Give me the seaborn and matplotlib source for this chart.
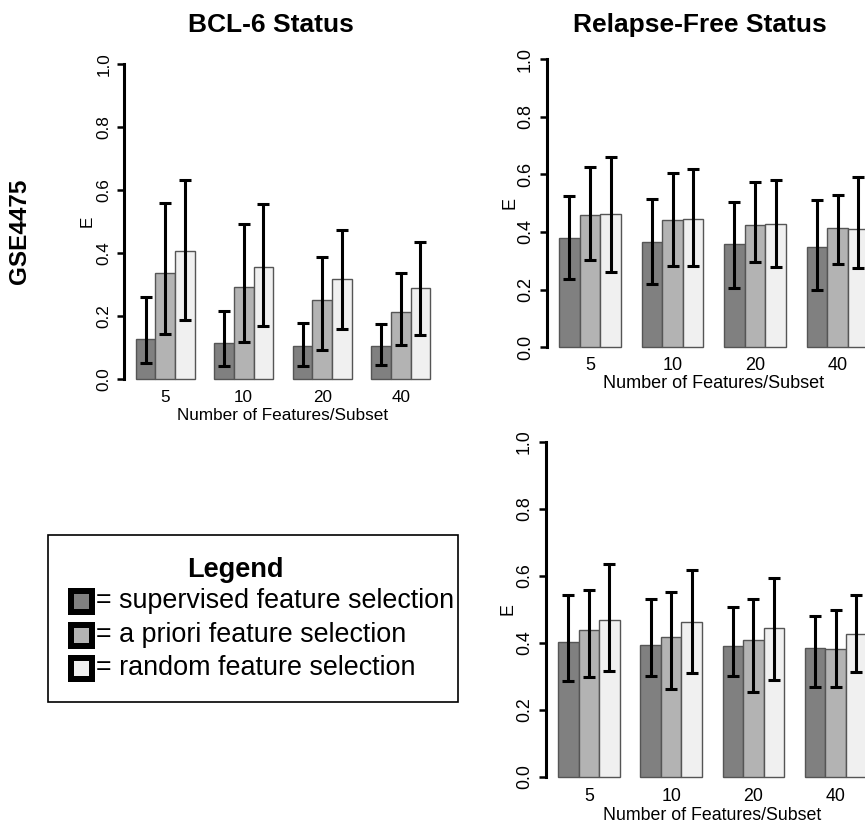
import numpy as np
import pandas as pd
import matplotlib
matplotlib.use("Agg")
import matplotlib.pyplot as plt
import seaborn as sns
from matplotlib.patches import Rectangle

# ---------------- data ----------------
sizes = ["5", "10", "20", "40"]
methods = ["supervised", "a priori", "random"]
legend_labels = ["= supervised feature selection",
                 "= a priori feature selection",
                 "= random feature selection"]
colors = ["#808080", "#b3b3b3", "#f0f0f0"]

# BCL-6 Status (top-left)
bcl_mean_sup = [0.127, 0.115, 0.106, 0.106]
bcl_mean_apr = [0.335, 0.292, 0.250, 0.213]
bcl_mean_rnd = [0.407, 0.354, 0.319, 0.289]
bcl_lo_sup = [0.050, 0.041, 0.041, 0.044]
bcl_lo_apr = [0.143, 0.119, 0.091, 0.108]
bcl_lo_rnd = [0.187, 0.169, 0.160, 0.140]
bcl_hi_sup = [0.261, 0.215, 0.179, 0.176]
bcl_hi_apr = [0.559, 0.493, 0.388, 0.335]
bcl_hi_rnd = [0.632, 0.554, 0.474, 0.436]

# Relapse-Free Status (top-right)
rfs_mean_sup = [0.379, 0.366, 0.357, 0.348]
rfs_mean_apr = [0.460, 0.443, 0.423, 0.413]
rfs_mean_rnd = [0.462, 0.445, 0.428, 0.410]
rfs_lo_sup = [0.238, 0.220, 0.207, 0.197]
rfs_lo_apr = [0.303, 0.282, 0.297, 0.289]
rfs_lo_rnd = [0.260, 0.282, 0.277, 0.275]
rfs_hi_sup = [0.525, 0.516, 0.504, 0.510]
rfs_hi_apr = [0.627, 0.603, 0.573, 0.528]
rfs_hi_rnd = [0.659, 0.617, 0.580, 0.591]

# bottom-right panel
b_mean_sup = [0.403, 0.393, 0.390, 0.383]
b_mean_apr = [0.438, 0.417, 0.409, 0.380]
b_mean_rnd = [0.468, 0.462, 0.445, 0.427]
b_lo_sup = [0.284, 0.300, 0.300, 0.269]
b_lo_apr = [0.297, 0.262, 0.252, 0.269]
b_lo_rnd = [0.315, 0.308, 0.288, 0.311]
b_hi_sup = [0.542, 0.529, 0.505, 0.481]
b_hi_apr = [0.558, 0.552, 0.530, 0.498]
b_hi_rnd = [0.634, 0.617, 0.592, 0.542]

yticks = [0.0, 0.2, 0.4, 0.6, 0.8, 1.0]
ytick_labels = ["0.0", "0.2", "0.4", "0.6", "0.8", "1.0"]

# ---------------- style ----------------
sns.set_theme(style="white")
plt.rcParams['font.family'] = ['Liberation Sans', 'DejaVu Sans']

W, H = 865, 825
fig = plt.figure(figsize=(W / 100, H / 100), dpi=100)
fig.patch.set_facecolor("white")


def px_axes(l, t, r, b):
    return fig.add_axes([l / W, 1 - b / H, (r - l) / W, (b - t) / H])


def panel(ax, means, los, his, fs):
    rows = []
    for m, mv, lv, hv in zip(methods, means, los, his):
        for s, a, b, c in zip(sizes, mv, lv, hv):
            rows.append({"size": s, "method": m, "E": a, "lo": b, "hi": c})
    df = pd.DataFrame(rows)
    sns.barplot(data=df, x="size", y="E", hue="method", order=sizes,
                hue_order=methods, palette=colors, width=0.75, saturation=1,
                edgecolor="#555555", linewidth=1.0, errorbar=None,
                legend=False, ax=ax)
    # error bars placed at the bar centres computed by seaborn
    bars = sorted(ax.patches, key=lambda p: p.get_x() + p.get_width() / 2)
    xc = [p.get_x() + p.get_width() / 2 for p in bars]
    ordered = []
    for s in sizes:
        for m in methods:
            ordered.append(df[(df["size"] == s) & (df["method"] == m)].iloc[0])
    mv = np.array([r["E"] for r in ordered])
    lv = np.array([r["lo"] for r in ordered])
    hv = np.array([r["hi"] for r in ordered])
    ax.errorbar(xc, mv, yerr=[mv - lv, hv - mv], fmt="none", ecolor="black",
                elinewidth=2.2, capsize=4.2, capthick=2.2, zorder=5)

    ax.set_xlim(-0.525, 3.525)
    ax.set_ylim(-0.04, 1.04)
    for sp in ["top", "right", "bottom"]:
        ax.spines[sp].set_visible(False)
    ax.spines["left"].set_bounds(0, 1)
    ax.spines["left"].set_linewidth(2.2)
    ax.spines["left"].set_color("black")
    ax.set_yticks(yticks)
    ax.set_yticklabels(ytick_labels)
    ax.tick_params(axis="y", length=5, width=1.8, direction="out",
                   labelrotation=90, pad=4, labelsize=fs, colors="black",
                   left=True)
    ax.tick_params(axis="x", length=0, pad=-1.5, labelsize=fs, colors="black")
    for lab in ax.get_yticklabels():
        lab.set_va("center")
    ax.set_xlabel("Number of Features/Subset", fontsize=fs, color="black")
    ax.set_ylabel("E", fontsize=fs, color="black")
    ax.xaxis.label.set_va("center")
    ax.yaxis.label.set_va("center")
    ax.set_facecolor("white")


# top-left
ax1 = px_axes(124, 51.4, 442, 391.6)
panel(ax1, [bcl_mean_sup, bcl_mean_apr, bcl_mean_rnd],
      [bcl_lo_sup, bcl_lo_apr, bcl_lo_rnd],
      [bcl_hi_sup, bcl_hi_apr, bcl_hi_rnd], 12.3)
ax1.xaxis.set_label_coords(0.5, -(415.5 - 391.6) / 340.2)
ax1.yaxis.set_label_coords(-0.115, 0.5)
ax1.set_title("BCL-6 Status", x=(270.5 - 124) / 318, y=(391.6 - 25) / 340.2,
              va="center", pad=0, fontsize=19, fontweight="bold",
              color="black")

# top-right
ax2 = px_axes(546.6, 47.5, 881, 358.8)
panel(ax2, [rfs_mean_sup, rfs_mean_apr, rfs_mean_rnd],
      [rfs_lo_sup, rfs_lo_apr, rfs_lo_rnd],
      [rfs_hi_sup, rfs_hi_apr, rfs_hi_rnd], 13.0)
ax2.xaxis.set_label_coords(0.5, -(384 - 358.8) / 311.3)
ax2.yaxis.set_label_coords(-0.11, 0.5)
ax2.set_title("Relapse-Free Status", x=(699.5 - 546.6) / 334.4,
              y=(358.8 - 25) / 311.3, va="center", pad=0, fontsize=19,
              fontweight="bold", color="black")

# bottom-right
ax3 = px_axes(545.6, 428.3, 879, 790)
panel(ax3, [b_mean_sup, b_mean_apr, b_mean_rnd],
      [b_lo_sup, b_lo_apr, b_lo_rnd],
      [b_hi_sup, b_hi_apr, b_hi_rnd], 12.8)
ax3.xaxis.set_label_coords(0.5, -(815.5 - 790) / 361.7)
ax3.yaxis.set_label_coords(-0.113, 0.5)

# row label
fig.text(20 / W, 1 - 231 / H, "GSE4475", rotation=90, ha="center",
         va="center", fontsize=17.5, fontweight="bold", color="black")

# legend box
fig.add_artist(Rectangle((48 / W, 1 - 702 / H), 410 / W, 167 / H,
                         transform=fig.transFigure, fill=False,
                         edgecolor="black", linewidth=1.2))
fig.text(235 / W, 1 - 570 / H, "Legend", ha="center", va="center",
         fontsize=19.5, fontweight="bold", color="black")
row_y = [601, 635, 668]
for c, lab, yy in zip(colors, legend_labels, row_y):
    fig.add_artist(Rectangle((68 / W, 1 - (yy + 13.5) / H), 27 / W, 27 / H,
                             transform=fig.transFigure, facecolor="black",
                             edgecolor="none"))
    fig.add_artist(Rectangle((74 / W, 1 - (yy + 7.5) / H), 15 / W, 15 / H,
                             transform=fig.transFigure, facecolor=c,
                             edgecolor="none"))
    fig.text(96 / W, 1 - yy / H, lab, ha="left", va="center",
             fontsize=19.4, color="black")

fig.savefig("out.png", dpi=100, facecolor="white")
